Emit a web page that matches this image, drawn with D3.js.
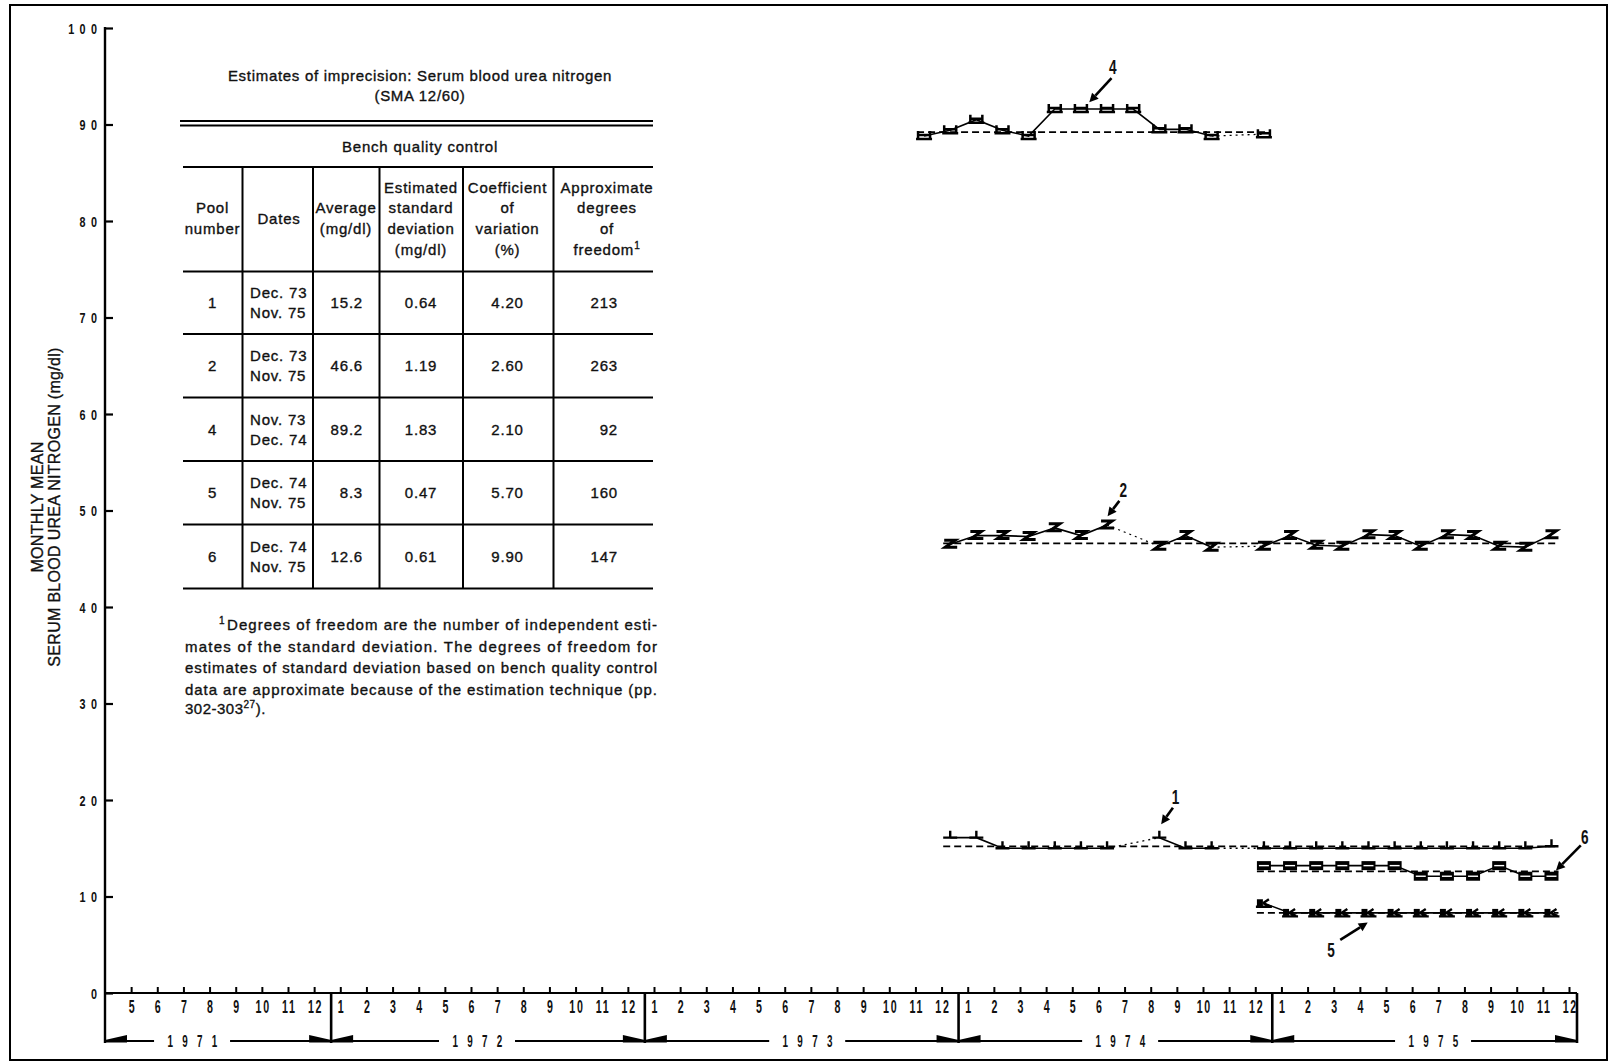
<!DOCTYPE html>
<html>
<head>
<meta charset="utf-8">
<script src="https://cdn.jsdelivr.net/npm/d3@7/dist/d3.min.js"></script>
<style>
  html, body { margin:0; padding:0; background:#fff; }
  svg { display:block; }
  text { font-family: 'Liberation Sans', Arial, Helvetica, sans-serif; fill:#111; }
  .heavy { stroke:#111; stroke-width:0.35px; }
</style>
</head>
<body>
<svg id="chart" width="1610" height="1063" viewBox="0 0 1610 1063"></svg>
<script>
// ---------------- data ----------------
const yTicks = [0, 10, 20, 30, 40, 50, 60, 70, 80, 90, 100];
const monthLabels = [5, 6, 7, 8, 9, 10, 11, 12,
  1, 2, 3, 4, 5, 6, 7, 8, 9, 10, 11, 12,
  1, 2, 3, 4, 5, 6, 7, 8, 9, 10, 11, 12,
  1, 2, 3, 4, 5, 6, 7, 8, 9, 10, 11, 12,
  1, 2, 3, 4, 5, 6, 7, 8, 9, 10, 11, 12];
const yearLabels = ["1971", "1972", "1973", "1974", "1975"];
const yearLabelAt = [3.33, 14.23, 26.86, 38.83, 50.8];   // month-index of year label

// monthly means (mg/dl); null = no value for that month
const pool1Start = [1973, 12];
const pool1Values = [16.1, 16.1, 15.0, 15.0, 15.0, 15.0, 15.0, null, 16.1, 15.0, 15.0, null,
                     15.0, 15.0, 15.0, 15.0, 15.0, 15.0, 15.0, 15.0, 15.0, 15.0, 15.0, 15.2];
const pool2Start = [1973, 12];
const pool2Values = [46.5, 47.4, 47.4, 47.3, 48.2, 47.4, 48.5, null, 46.3, 47.4, 46.2, null,
                     46.3, 47.4, 46.4, 46.3, 47.5, 47.4, 46.3, 47.5, 47.4, 46.3, 46.2, 47.5];
const pool4Start = [1973, 11];
const pool4Values = [88.8, 89.4, 90.5, 89.4, 88.8, 91.6, 91.6, 91.6, 91.6, 89.5, 89.5, 88.8, null, 89.0];
const pool5Start = [1974, 12];
const pool5Values = [9.3, 8.3, 8.3, 8.3, 8.3, 8.3, 8.3, 8.3, 8.3, 8.3, 8.3, 8.3];
const pool6Start = [1974, 12];
const pool6Values = [13.2, 13.2, 13.2, 13.2, 13.2, 13.2, 12.1, 12.1, 12.1, 13.2, 12.1, 12.1];

// table
const tableTitle = ["Estimates of imprecision:  Serum blood urea nitrogen", "(SMA 12/60)"];
const tableSubtitle = "Bench quality control";
const tableHeaders = [["Pool", "number"], ["Dates"], ["Average", "(mg/dl)"],
  ["Estimated", "standard", "deviation", "(mg/dl)"], ["Coefficient", "of", "variation", "(%)"],
  ["Approximate", "degrees", "of", "freedom"]];
const tablePools = ["1", "2", "4", "5", "6"];
const tableDatesFrom = ["Dec. 73", "Dec. 73", "Nov. 73", "Dec. 74", "Dec. 74"];
const tableDatesTo = ["Nov. 75", "Nov. 75", "Dec. 74", "Nov. 75", "Nov. 75"];
const tableAverage = [15.2, 46.6, 89.2, 8.3, 12.6];
const tableSD = ["0.64", "1.19", "1.83", "0.47", "0.61"];
const tableCV = ["4.20", "2.60", "2.10", "5.70", "9.90"];
const tableDF = ["213", "263", "92", "160", "147"];
const footnote = ["Degrees of freedom are the number of independent esti-",
  "mates of the standard deviation.  The degrees of freedom for",
  "estimates of standard deviation based on bench quality control",
  "data are approximate because of the estimation technique (pp.",
  "302-303"];

// annotation arrows (month-index, value)
const annLabels = ["4", "2", "1", "6", "5"];
const annLabelPos = [[38.55, 96.0], [38.95, 52.1], [40.95, 20.3], [56.6, 16.2], [46.9, 4.5]];
const annTail = [[38.5, 94.8], [38.8, 51.0], [40.85, 19.2], [56.45, 15.3], [47.25, 5.5]];
const annTip = [[37.65, 92.3], [38.35, 49.4], [40.4, 17.5], [55.5, 12.7], [48.3, 7.3]];

// ---------------- layout ----------------
const svg = d3.select("#chart");
const mIdx = (yr, mo) => (yr - 1971) * 12 + (mo - 4);   // 0 = April 1971
const x = d3.scaleLinear().domain([0, 56]).range([105, 1569]);
const y = d3.scaleLinear().domain([0, 100]).range([993, 28]);
const PT = 0.33;     // monthly mean plotted a third into the month
const SEP = 0.35;    // year separators just before January
const axisY = y(0);
const bracketY = 1041;
const xEnd = x(56) + 8;
const BOLD = "'Liberation Sans', Arial, sans-serif";

// frame
svg.append("rect").attr("x", 10).attr("y", 5).attr("width", 1597).attr("height", 1055)
  .attr("fill", "none").attr("stroke", "#000").attr("stroke-width", 2);

// ---- y axis ----
svg.append("line").attr("x1", x(0)).attr("x2", x(0)).attr("y1", y(100) - 1).attr("y2", bracketY + 2)
  .attr("stroke", "#000").attr("stroke-width", 2.4);
const yAxisG = svg.append("g").attr("transform", `translate(${x(0)},0)`)
  .call(d3.axisLeft(y).tickValues(yTicks).tickSize(-8).tickPadding(0).tickFormat(d3.format("d")));
yAxisG.select(".domain").remove();
yAxisG.selectAll(".tick line").attr("stroke", "#000").attr("stroke-width", 2.2);
yAxisG.selectAll(".tick text")
  .attr("x", (-8 + 5.4) / 0.72).attr("dy", "0.36em")
  .attr("transform", "scale(0.72,1)")
  .style("font-family", BOLD).style("font-weight", "bold").style("font-size", "15px")
  .style("letter-spacing", "7.5px").attr("fill", "#111");

// y title
const yTitle = svg.append("g");
[["MONTHLY MEAN", 37], ["SERUM BLOOD UREA NITROGEN (mg/dl)", 54.5]].forEach(([t, xx]) => {
  yTitle.append("text").attr("class", "heavy").attr("transform", `translate(${xx},507) rotate(-90)`)
    .attr("text-anchor", "middle").attr("dy", "0.36em")
    .style("font-size", "16px").style("letter-spacing", "0.3px").text(t);
});

// ---- x axis ----
svg.append("line").attr("x1", x(0)).attr("x2", xEnd).attr("y1", axisY).attr("y2", axisY)
  .attr("stroke", "#000").attr("stroke-width", 2.2);
const xAxisG = svg.append("g").attr("transform", `translate(0,${axisY})`)
  .call(d3.axisBottom(x).tickValues(monthLabels.map((m, i) => i + 1)).tickSize(-6).tickPadding(0)
    .tickFormat((d, i) => monthLabels[i]));
xAxisG.select(".domain").remove();
xAxisG.selectAll(".tick line").attr("stroke", "#000").attr("stroke-width", 2);
xAxisG.selectAll(".tick text")
  .attr("y", 20).attr("dy", 0).attr("dx", 1.5)
  .attr("transform", "scale(0.56,1)")
  .style("font-family", BOLD).style("font-weight", "bold").style("font-size", "19px")
  .style("letter-spacing", "3px").attr("fill", "#111");

// year separators / brackets
const sepX = [1972, 1973, 1974, 1975].map(yr => x(mIdx(yr, 1) - SEP));
const bounds = [x(0), ...sepX, xEnd];
const br = svg.append("g");
sepX.concat([xEnd]).forEach(sx => {
  br.append("line").attr("x1", sx).attr("x2", sx).attr("y1", axisY).attr("y2", bracketY + 2)
    .attr("stroke", "#000").attr("stroke-width", 2.6);
});
yearLabels.forEach((lab, i) => {
  const L = bounds[i], R = bounds[i + 1], cx = x(yearLabelAt[i]);
  br.append("line").attr("x1", L).attr("x2", cx - 38).attr("y1", bracketY).attr("y2", bracketY)
    .attr("stroke", "#000").attr("stroke-width", 2.2);
  br.append("line").attr("x1", cx + 38).attr("x2", R).attr("y1", bracketY).attr("y2", bracketY)
    .attr("stroke", "#000").attr("stroke-width", 2.2);
  br.append("path").attr("d", `M${L},${bracketY + 1.5}L${L},${bracketY - 1}L${L + 22},${bracketY - 6}L${L + 22},${bracketY + 1.5}Z`)
    .attr("fill", "#000");
  br.append("path").attr("d", `M${R - 22},${bracketY + 1.5}L${R - 22},${bracketY - 6}L${R},${bracketY - 1}L${R},${bracketY + 1.5}Z`)
    .attr("fill", "#000");
  br.append("g").attr("transform", `translate(${cx},${bracketY + 6}) scale(0.58,1)`)
    .append("text").attr("text-anchor", "middle").attr("x", 8.5)
    .style("font-family", BOLD).style("font-weight", "bold").style("font-size", "17px")
    .style("letter-spacing", "16px").text(lab);
});

// ---------------- series ----------------
const markerDefs = {
  "1": g => g.append("path").attr("d", "M-7,0H7M0,0V-7").attr("stroke", "#000").attr("stroke-width", 2.4).attr("fill", "none"),
  "2": g => g.append("path").attr("d", "M-6,-4H5L-5,3H7").attr("stroke", "#000").attr("stroke-width", 3).attr("fill", "none"),
  "4": g => g.append("path").attr("d", "M-6,-5V3M6,-5V3M-6,-1H6M-8,3H8").attr("stroke", "#000").attr("stroke-width", 2.5).attr("fill", "none"),
  "5": g => {
    g.append("path").attr("d", "M-7,-4H-1V3H-7Z").attr("fill", "#000");
    g.append("path").attr("d", "M-1,0L5,-4M-1,0L6,3M-8,3.5H8").attr("stroke", "#000").attr("stroke-width", 2.4).attr("fill", "none");
  },
  "6": g => {
    g.append("rect").attr("x", -7).attr("y", -4.5).attr("width", 14).attr("height", 9).attr("fill", "#000");
    g.append("path").attr("d", "M-5,0H5").attr("stroke", "#fff").attr("stroke-width", 1.4);
  }
};

const series = [
  { pool: "4", start: mIdx(...pool4Start), values: pool4Values, avg: tableAverage[2] },
  { pool: "2", start: mIdx(...pool2Start), values: pool2Values, avg: tableAverage[1] },
  { pool: "1", start: mIdx(...pool1Start), values: pool1Values, avg: tableAverage[0] },
  { pool: "6", start: mIdx(...pool6Start), values: pool6Values, avg: tableAverage[4] },
  { pool: "5", start: mIdx(...pool5Start), values: pool5Values, avg: tableAverage[3] }
];

const lineGen = d3.line().defined(d => d.v != null).x(d => x(d.m + PT)).y(d => y(d.v));
series.forEach(s => {
  const pts = s.values.map((v, i) => ({ m: s.start + i, v }));
  const g = svg.append("g");
  g.append("line").attr("x1", x(s.start + PT) - 7).attr("x2", x(s.start + s.values.length - 1 + PT) + 7)
    .attr("y1", y(s.avg)).attr("y2", y(s.avg))
    .attr("stroke", "#000").attr("stroke-width", 1.7).attr("stroke-dasharray", "7,4");
  g.append("path").attr("d", lineGen(pts)).attr("fill", "none").attr("stroke", "#000").attr("stroke-width", 1.6);
  const valid = pts.filter(d => d.v != null);
  for (let i = 1; i < valid.length; i++) {
    if (valid[i].m - valid[i - 1].m > 1) {
      g.append("line").attr("x1", x(valid[i - 1].m + PT)).attr("y1", y(valid[i - 1].v))
        .attr("x2", x(valid[i].m + PT)).attr("y2", y(valid[i].v))
        .attr("stroke", "#000").attr("stroke-width", 1.3).attr("stroke-dasharray", "2,4");
    }
  }
  valid.forEach(d => {
    const mg = g.append("g").attr("transform", `translate(${x(d.m + PT)},${y(d.v)})`);
    markerDefs[s.pool](mg);
  });
});

// annotations
const ann = svg.append("g");
annLabels.forEach((lab, i) => {
  const [lx, ly] = annLabelPos[i], [tx, ty] = annTail[i], [hx, hy] = annTip[i];
  const x1 = x(tx), y1 = y(ty), x2 = x(hx), y2 = y(hy);
  const ang = Math.atan2(y2 - y1, x2 - x1), L = 9, W = 4.5;
  const bx = x2 - L * Math.cos(ang), by = y2 - L * Math.sin(ang);
  ann.append("line").attr("x1", x1).attr("y1", y1).attr("x2", bx).attr("y2", by)
    .attr("stroke", "#000").attr("stroke-width", 2.6);
  ann.append("path").attr("d", `M${x2},${y2}L${bx - W * Math.sin(ang)},${by + W * Math.cos(ang)}L${bx + W * Math.sin(ang)},${by - W * Math.cos(ang)}Z`)
    .attr("fill", "#000");
  ann.append("g").attr("transform", `translate(${x(lx)},${y(ly) + 7}) scale(0.68,1)`)
    .append("text").attr("text-anchor", "middle")
    .style("font-family", BOLD).style("font-weight", "bold").style("font-size", "20px").text(lab);
});

// ---------------- table ----------------
const tb = svg.append("g");
const T = (xx, yy, str, anchor = "middle", size = 15, ls = 0.8) =>
  tb.append("text").attr("class", "heavy").attr("x", xx).attr("y", yy).attr("text-anchor", anchor)
    .style("font-size", size + "px").style("letter-spacing", ls + "px").text(str);
const hl = (x1, x2, yy, w = 2) => tb.append("line").attr("x1", x1).attr("x2", x2).attr("y1", yy).attr("y2", yy)
  .attr("stroke", "#000").attr("stroke-width", w);

T(420, 80.5, tableTitle[0], "middle", 15, 0.7);
T(420, 101, tableTitle[1], "middle", 15, 0.7);
hl(180, 653, 121);
hl(180, 653, 125.6);
T(420, 151.5, tableSubtitle);
hl(183, 653, 167);

const colLines = [242.5, 313, 379.5, 463, 553.5];
const rowLines = [271.5, 334, 397.5, 461, 524.5, 588.5];
rowLines.forEach(r => hl(183, 653, r));
colLines.forEach(c => tb.append("line").attr("x1", c).attr("x2", c).attr("y1", 167).attr("y2", 588.5)
  .attr("stroke", "#000").attr("stroke-width", 2));

const headX = [212.5, 279, 346, 421, 507.5, 607];
tableHeaders.forEach((lines, ci) => {
  const n = lines.length, c0 = 218.5 - (n - 1) * 20.7 / 2;
  lines.forEach((ln, li) => {
    const t = T(headX[ci], c0 + li * 20.7 + 5.3, ln);
    if (ci === 5 && li === n - 1) {
      t.append("tspan").attr("dy", -6).style("font-size", "10px").text("1");
    }
  });
});

tablePools.forEach((p, ri) => {
  const cy = (rowLines[ri] + rowLines[ri + 1]) / 2;
  T(212.5, cy + 5.3, p);
  T(250, cy - 10 + 5.3, tableDatesFrom[ri], "start");
  T(250, cy + 10 + 5.3, tableDatesTo[ri], "start");
  T(363, cy + 5.3, tableAverage[ri].toFixed(1), "end");
  T(421, cy + 5.3, tableSD[ri]);
  T(507.5, cy + 5.3, tableCV[ri]);
  T(618, cy + 5.3, tableDF[ri], "end");
});

// footnote
const fnY = [629.5, 651.5, 673, 694.5, 714];
tb.append("text").attr("class", "heavy").attr("x", 219).attr("y", fnY[0] - 6).style("font-size", "10px").text("1");
tb.append("text").attr("class", "heavy").attr("x", 227).attr("y", fnY[0]).attr("textLength", 430).attr("lengthAdjust", "spacing")
  .style("font-size", "15px").text(footnote[0]);
[1, 2, 3].forEach(i => {
  tb.append("text").attr("class", "heavy").attr("x", 185).attr("y", fnY[i]).attr("textLength", 472).attr("lengthAdjust", "spacing")
    .style("font-size", "15px").text(footnote[i]);
});
const last = tb.append("text").attr("class", "heavy").attr("x", 185).attr("y", fnY[4]).style("font-size", "15px").style("letter-spacing", "0.5px");
last.append("tspan").text(footnote[4]);
last.append("tspan").attr("dy", -6).style("font-size", "10px").text("27");
last.append("tspan").attr("dy", 6).text(").");
</script>
</body>
</html>
